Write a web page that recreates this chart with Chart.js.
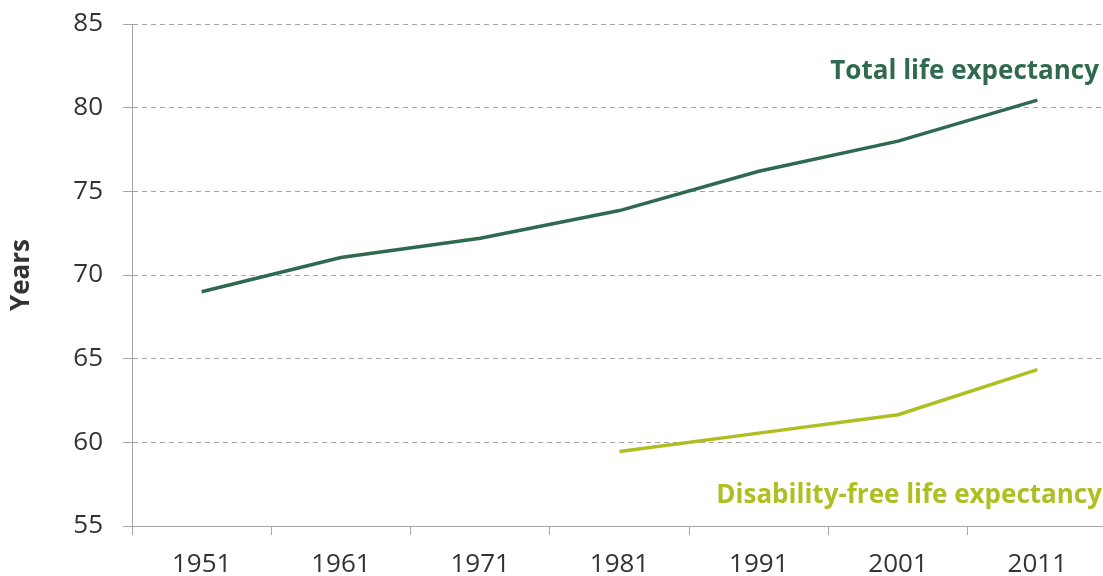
<!DOCTYPE html>
<html>
<head>
<meta charset="utf-8">
<script src="https://cdn.jsdelivr.net/npm/chart.js@4/dist/chart.umd.min.js"></script>
<style>
  html, body { margin: 0; padding: 0; background: #fff; overflow: hidden; }
  #wrap { position: relative; width: 1107px; height: 576px; }
</style>
</head>
<body>
<div id="wrap"><canvas id="lifeChart"></canvas></div>
<script>
// Census years
const years = ["1951", "1961", "1971", "1981", "1991", "2001", "2011"];
// Life expectancy at birth, years
const totalLife = [69.0, 71.05, 72.2, 73.85, 76.2, 78.0, 80.45];
const disabilityFree = [null, null, null, 59.45, 60.55, 61.65, 64.35];
// y axis range
const yMin = 55;
const yMax = 85;
const yStep = 5;

const darkGreen = "#2f6a4f";
const limeGreen = "#afbe21";
const axisGrey = "#a6a6a6";
const textGrey = "#333333";

// draws the series names next to the lines
const seriesLabels = {
  id: "seriesLabels",
  afterDraw(chart) {
    const ctx = chart.ctx;
    ctx.save();
    ctx.font = "bold 26px 'Open Sans'";
    ctx.textAlign = "right";
    ctx.textBaseline = "alphabetic";
    ctx.fillStyle = darkGreen;
    ctx.fillText("Total life expectancy", 1099, 79);
    ctx.fillStyle = limeGreen;
    ctx.fillText("Disability-free life expectancy", 1102, 503);
    ctx.restore();
  }
};

const config = {
  type: "line",
  data: {
    labels: years,
    datasets: [
      {
        label: "Total life expectancy",
        data: totalLife,
        borderColor: darkGreen,
        borderWidth: 3.5,
        pointRadius: 0,
        tension: 0,
        fill: false
      },
      {
        label: "Disability-free life expectancy",
        data: disabilityFree,
        borderColor: limeGreen,
        borderWidth: 3.5,
        pointRadius: 0,
        tension: 0,
        fill: false
      }
    ]
  },
  options: {
    responsive: true,
    maintainAspectRatio: false,
    animation: false,
    layout: { padding: { top: 24, right: 0, left: 0, bottom: 0 } },
    plugins: {
      legend: { display: false },
      tooltip: { enabled: false }
    },
    scales: {
      x: {
        offset: true,
        grid: {
          offset: true,
          drawOnChartArea: false,
          drawTicks: true,
          tickLength: 9,
          tickColor: axisGrey,
          tickWidth: 1
        },
        border: { display: true, color: axisGrey, width: 1 },
        ticks: {
          color: textGrey,
          font: { family: "'Open Sans'", size: 26 },
          padding: 14,
          maxRotation: 0
        },
        afterFit(scale) { scale.height = 50; }
      },
      y: {
        min: yMin,
        max: yMax,
        grid: {
          color: axisGrey,
          lineWidth: 1,
          tickLength: 9,
          tickColor: axisGrey,
          tickBorderDash: [1, 0]
        },
        border: { display: true, color: axisGrey, width: 1, dash: [5, 4] },
        ticks: {
          stepSize: yStep,
          color: textGrey,
          font: { family: "'Open Sans'", size: 26 },
          padding: 20
        },
        title: {
          display: true,
          text: "Years",
          color: textGrey,
          font: { family: "'Open Sans'", size: 26, weight: "bold" },
          padding: { top: 6, bottom: 0 }
        },
        afterFit(scale) {
          scale.width = 132;
          scale.paddingTop = 0;
          scale.paddingBottom = 0;
        }
      }
    }
  },
  plugins: [seriesLabels]
};

const lifeChart = new Chart(document.getElementById("lifeChart"), config);
</script>
</body>
</html>
